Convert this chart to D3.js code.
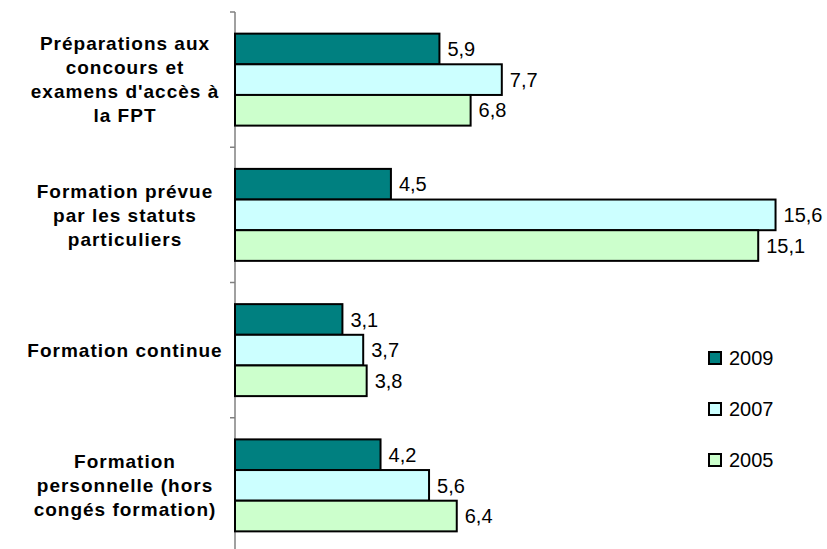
<!DOCTYPE html>
<html><head><meta charset="utf-8">
<script src="https://cdn.jsdelivr.net/npm/d3@7"></script>
<style>body{margin:0;background:#fff}svg{display:block}</style>
</head><body>
<svg id="c" width="827" height="549"></svg>
<script>
const categories = ["prep", "statuts", "continue", "perso"];
const categoryLabels = [
  ["Préparations aux", "concours et", "examens d'accès à", "la FPT"],
  ["Formation prévue", "par les statuts", "particuliers"],
  ["Formation continue"],
  ["Formation", "personnelle (hors", "congés formation)"]
];
const seriesNames = ["2009", "2007", "2005"];
const values2009 = [5.9, 4.5, 3.1, 4.2];
const values2007 = [7.7, 15.6, 3.7, 5.6];
const values2005 = [6.8, 15.1, 3.8, 6.4];
const colors = ["#008080", "#CCFFFF", "#CCFFCC"];

const series = [values2009, values2007, values2005];
const svg = d3.select("#c");
const x0 = 235;
const x = d3.scaleLinear().domain([0, 16]).range([x0, x0 + 34.65 * 16]);
const y = d3.scaleBand().domain(categories).range([12, 553]).paddingInner(0.32).paddingOuter(0.16);
const yi = d3.scaleBand().domain(seriesNames).range([0, y.bandwidth()]);
const step = y.step();
const font = "Liberation Sans, Arial, sans-serif";

// axis
const axisG = svg.append("g");
axisG.append("line").attr("x1", x0).attr("x2", x0).attr("y1", 12).attr("y2", 553)
  .attr("stroke", "#808080").attr("stroke-width", 1.5);
const bounds = categories.map((c, i) => y(c) - step * 0.16).concat([553]);
axisG.selectAll("line.tick").data(bounds).enter().append("line")
  .attr("x1", x0 - 5).attr("x2", x0).attr("y1", d => d).attr("y2", d => d)
  .attr("stroke", "#808080").attr("stroke-width", 1.5);

categories.forEach((c, ci) => {
  const g = svg.append("g");
  seriesNames.forEach((s, si) => {
    const v = series[si][ci];
    const yy = y(c) + yi(s);
    g.append("rect").attr("x", x(0)).attr("y", yy).attr("width", x(v) - x(0)).attr("height", yi.bandwidth())
      .attr("fill", colors[si]).attr("stroke", "#000").attr("stroke-width", 2);
    g.append("text").attr("x", x(v) + 8).attr("y", yy + yi.bandwidth() / 2).attr("dy", "0.36em")
      .attr("font-family", font).attr("font-size", 20)
      .attr("fill", "#000").text(String(v).replace(".", ","));
  });
  const lines = categoryLabels[ci];
  const cy = y(c) + y.bandwidth() / 2;
  const lh = 24;
  const t = svg.append("text").attr("text-anchor", "middle")
    .attr("font-family", font).attr("font-size", 19)
    .attr("font-weight", "bold").attr("letter-spacing", "1px").attr("fill", "#000");
  lines.forEach((l, li) => {
    t.append("tspan").attr("x", 125).attr("y", cy + (li - (lines.length - 1) / 2) * lh).attr("dy", "0.36em").text(l);
  });
});

// legend
const lg = svg.append("g");
seriesNames.forEach((s, si) => {
  const ly = 358 + si * 51;
  lg.append("rect").attr("x", 709).attr("y", ly - 6).attr("width", 12).attr("height", 12)
    .attr("fill", colors[si]).attr("stroke", "#000").attr("stroke-width", 2);
  lg.append("text").attr("x", 729).attr("y", ly).attr("dy", "0.36em")
    .attr("font-family", font).attr("font-size", 20).text(s);
});
</script>
</body></html>
